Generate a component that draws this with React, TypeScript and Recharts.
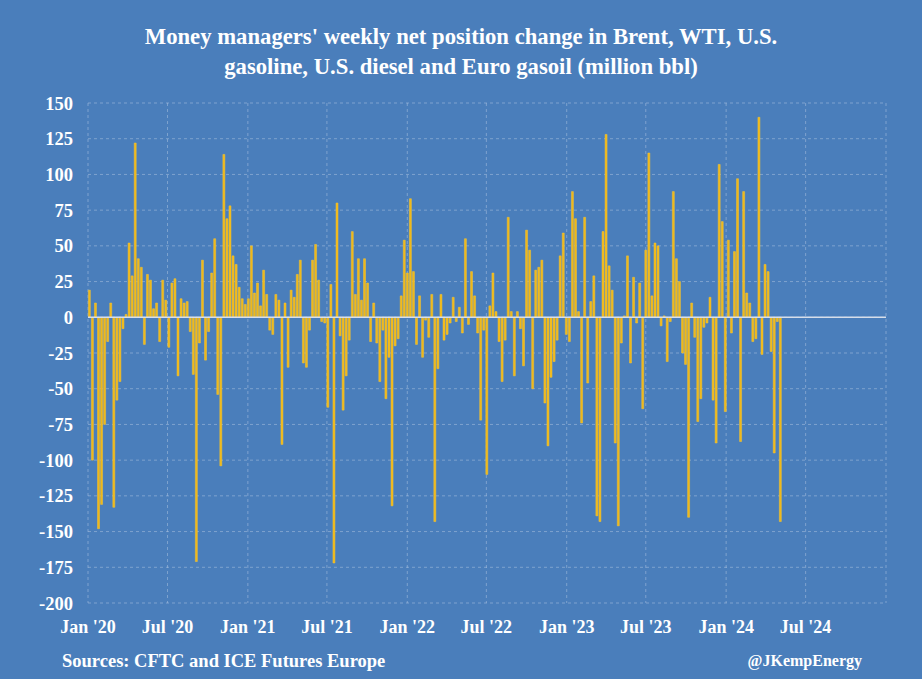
import React from 'react';
import { BarChart, Bar, XAxis, YAxis, CartesianGrid, ReferenceLine } from 'recharts';

// Weekly net position change (million bbl), one value per weekly report (Fridays), starting 3 Jan 2020
const FIRST_REPORT = '2020-01-03';
const AXIS_START = '2020-01-01';
const AXIS_END = '2025-01-01';

const change2020 = [
  19, -100, 10, -148, -131, -75, -17, 10, -133, -58, -45, -8, 2, 52, 29, 122, 41, 35, -19, 30, 26, 6,
  10, -17, 26, 12, -21, 24, 27, -41, 13, 10, 11, -10, -40, -171, -18, 40, -30, -10, 31, 55, -54, -104, 114,
  69, 78, 43, 37, 21, 13, 9,
];
const change2021 = [
  13, 50, 17, 24, 8, 33, 16, -9, -12, 16, 12, -89, 10, -35, 19, 14,
  30, 40, -32, -35, -9, 40, 51, 26, -3, -4, -63, 23, -172, 80, -13, -65, -41, -16, 60, 16, 41, 12, 41,
  24, -17, 10, -18, -45, -9, -57, -28, -132, -20, -15, 15, 54, 31,
];
const change2022 = [
  83, 32, -19, 15, -28, -2, -14, 16, -143,
  -36, 16, -16, -12, -4, 14, -3, 7, -11, 55, -5, 32, 15, -11, -72, -9, -110, 8, 31, 4, -17, -45,
  -16, 70, 4, -41, 4, -8, -34, 61, 47, -50, 33, 35, 40, -60, -90, -42, -31, -16, 43, 59, -12,
];
const change2023 = [
  -17, 88,
  69, 4, -74, 70, -46, 11, 29, -139, -143, 60, 128, 36, 19, -88, -146, -18, 1, 43, -32, 28, -4, 24, -64,
  47, 115, 15, 52, 50, -6, 1, -31, -3, 88, 41, 25, -25, -33, -140, 10, -14, -73, -57, -7, -4, 14, -58,
  -88, 107, 67, -66,
];
const change2024 = [54, -11, 46, 97, -87, 88, 17, 10, -17, -15, 140, -26, 37, 32, -24, -95, -3, -143];

const xTickDates = [
  '2020-01-01', '2020-07-01', '2021-01-01', '2021-07-01', '2022-01-01',
  '2022-07-01', '2023-01-01', '2023-07-01', '2024-01-01', '2024-07-01',
];
const xTickLabels = [
  "Jan '20", "Jul '20", "Jan '21", "Jul '21", "Jan '22",
  "Jul '22", "Jan '23", "Jul '23", "Jan '24", "Jul '24",
];
const yTicks = [-200, -175, -150, -125, -100, -75, -50, -25, 0, 25, 50, 75, 100, 125, 150];

const DAY = 86400000;
const dayOf = (iso: string) => Math.round((Date.parse(iso + 'T00:00:00Z') - Date.parse(AXIS_START + 'T00:00:00Z')) / DAY);

const allValues = [...change2020, ...change2021, ...change2022, ...change2023, ...change2024];
const firstDay = dayOf(FIRST_REPORT);
const data = allValues.map((v, i) => ({ day: firstDay + 7 * i, value: v }));
const xTicks = xTickDates.map(dayOf);
const labelFor = (d: number) => {
  const idx = xTicks.indexOf(d);
  return idx >= 0 ? xTickLabels[idx] : '';
};

const BG = '#4A7EBB';
const FONT = "'Liberation Serif', 'DejaVu Serif', serif";

export default function App() {
  return (
    <div style={{ position: 'absolute', left: 0, top: 0, width: 922, height: 679, background: BG, overflow: 'hidden', fontFamily: FONT }}>
      <div style={{ position: 'absolute', left: 0, top: 22, width: 922, textAlign: 'center', color: '#fff', fontWeight: 'bold', fontSize: 22.7, lineHeight: '30px' }}>
        Money managers' weekly net position change in Brent, WTI, U.S.
        <br />
        gasoline, U.S. diesel and Euro gasoil (million bbl)
      </div>
      <BarChart
        width={922}
        height={679}
        data={data}
        margin={{ top: 103, right: 36, bottom: 46, left: 28 }}
        style={{ position: 'absolute', left: 0, top: 0 }}
      >
        <CartesianGrid stroke="#A9C0DE" strokeOpacity={0.7} strokeDasharray="3 3" strokeWidth={0.8} />
        <XAxis
          dataKey="day"
          type="number"
          scale="linear"
          domain={[0, dayOf(AXIS_END)]}
          ticks={xTicks}
          tickFormatter={labelFor}
          axisLine={false}
          tickLine={false}
          tickSize={6}
          tickMargin={11}
          height={30}
          interval={0}
          tick={{ fill: '#fff', fontSize: 18, fontWeight: 'bold', fontFamily: FONT }}
        />
        <YAxis
          type="number"
          domain={[-200, 150]}
          ticks={yTicks}
          interval={0}
          width={60}
          axisLine={false}
          tickLine={false}
          tickSize={6}
          tickMargin={9}
          tick={{ fill: '#fff', fontSize: 18.5, fontWeight: 'bold', fontFamily: FONT }}
        />
        <Bar dataKey="value" fill="#F0B817" stroke="#F5C63A" strokeWidth={0.5} barSize={2} isAnimationActive={false} />
        <ReferenceLine y={0} stroke="#D6DEEA" strokeWidth={1.5} ifOverflow="extendDomain" />
      </BarChart>
      <div style={{ position: 'absolute', left: 62, top: 650, color: '#fff', fontWeight: 'bold', fontSize: 18.5, lineHeight: '22px' }}>
        Sources: CFTC and ICE Futures Europe
      </div>
      <div style={{ position: 'absolute', right: 60, top: 650, color: '#fff', fontWeight: 'bold', fontSize: 16, lineHeight: '22px' }}>
        @JKempEnergy
      </div>
    </div>
  );
}
